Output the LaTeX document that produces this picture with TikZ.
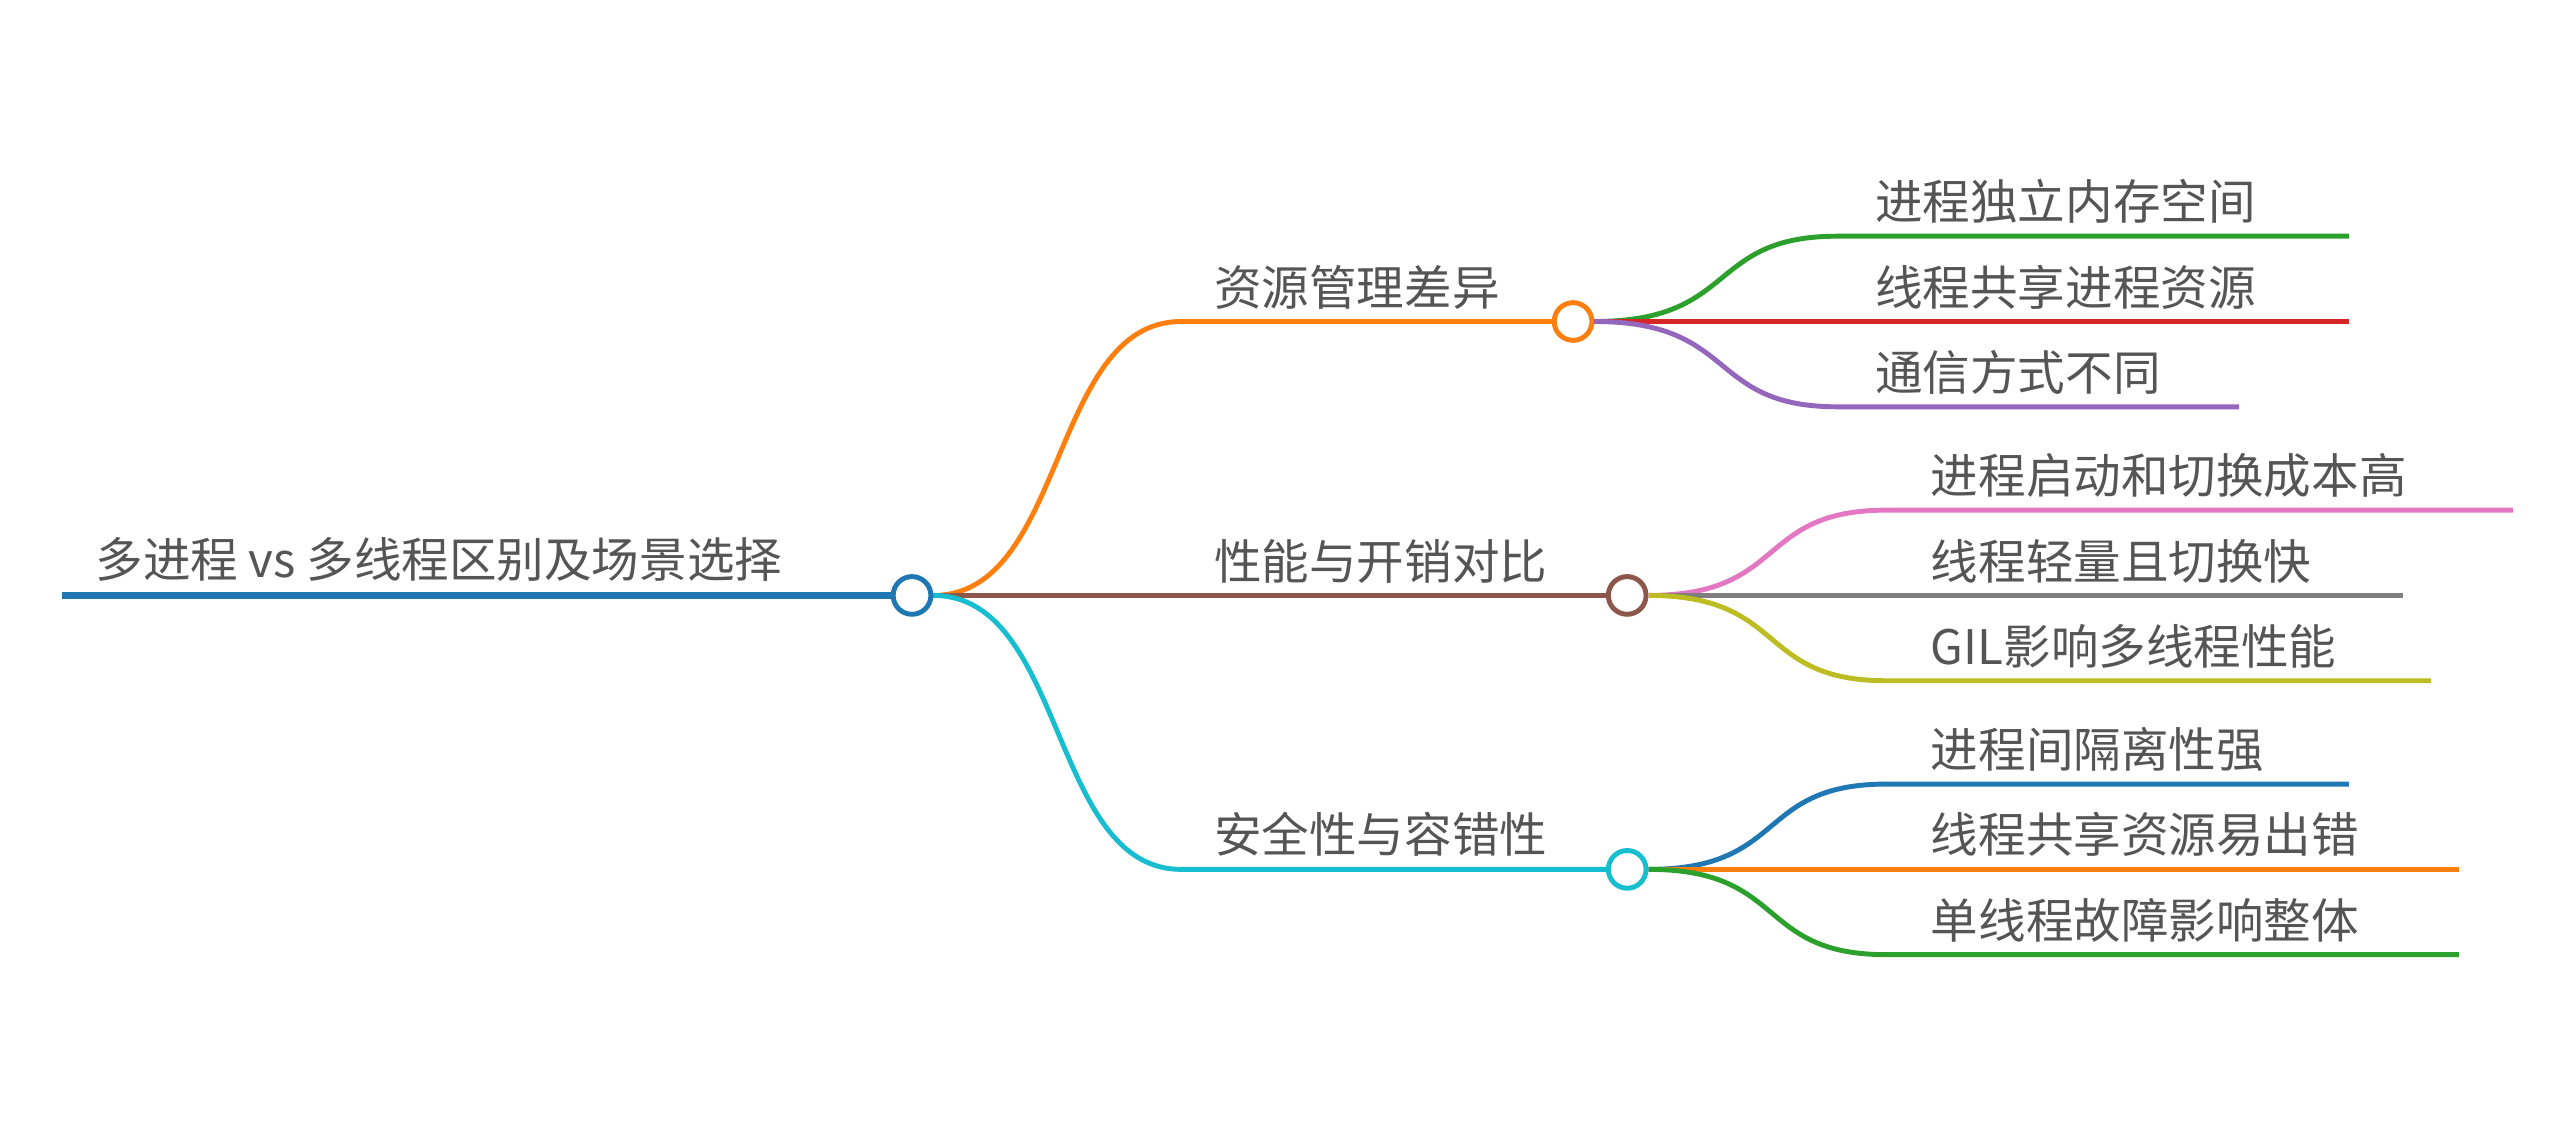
\documentclass[tikz,border=0pt]{standalone}
\usepackage{fontspec}
\setmainfont{Noto Sans CJK SC}
\begin{document}
\definecolor{cB}{HTML}{1F77B4}\definecolor{cO}{HTML}{FF7F0E}\definecolor{cG}{HTML}{2CA02C}
\definecolor{cR}{HTML}{D62728}\definecolor{cP}{HTML}{9467BD}\definecolor{cBr}{HTML}{8C564B}
\definecolor{cPk}{HTML}{E377C2}\definecolor{cGy}{HTML}{7F7F7F}\definecolor{cOl}{HTML}{BCBD22}
\definecolor{cC}{HTML}{17BECF}\definecolor{tx}{HTML}{555555}
\begin{tikzpicture}[x=1pt,y=-1pt,
  lbl/.style={anchor=base west,inner sep=0pt,text=tx,font=\fontsize{29}{29}\selectfont},
  ln/.style={line width=3pt},
  dot/.style={circle,draw,line width=3pt,fill=white,minimum size=23pt,inner sep=0pt}]
\useasboundingbox (0,0) rectangle (1568,685);
% root
\coordinate (r0) at (38,363);
\node[dot,draw=cB] (root) at (556,363) {};
\draw[ln,cB,line width=4pt] (r0) -- (root.west);
\node[lbl] at (58,352) {多进程 vs 多线程区别及场景选择};
% branch nodes
\node[dot,draw=cO] (b1) at (959,196) {};
\node[dot,draw=cBr] (b2) at (992,363) {};
\node[dot,draw=cC] (b3) at (992,530) {};
\coordinate (h1) at (720,196); \coordinate (h3) at (720,530);
\draw[ln,cO] (root.east) .. controls (650,363) and (640,196) .. (h1) -- (b1.west);
\draw[ln,cBr] (root.east) -- (b2.west);
\draw[ln,cC] (root.east) .. controls (650,363) and (640,530) .. (h3) -- (b3.west);
\node[lbl] at (740,186) {资源管理差异};
\node[lbl] at (740,353) {性能与开销对比};
\node[lbl] at (740,520) {安全性与容错性};
% leaves group 1
\coordinate (a1) at (1120,144); \coordinate (e1) at (1432,144);
\coordinate (a2) at (1120,196); \coordinate (e2) at (1432,196);
\coordinate (a3) at (1120,248); \coordinate (e3) at (1365,248);
\draw[ln,cG] (b1.east) .. controls (1060,196) and (1040,144) .. (a1) -- (e1);
\draw[ln,cR] (b1.east) -- (e2);
\draw[ln,cP] (b1.east) .. controls (1060,196) and (1040,248) .. (a3) -- (e3);
\node[lbl] at (1143,134) {进程独立内存空间};
\node[lbl] at (1143,186) {线程共享进程资源};
\node[lbl] at (1143,238) {通信方式不同};
% group 2
\coordinate (c1) at (1150,311); \coordinate (f1) at (1532,311);
\coordinate (f2) at (1465,363);
\coordinate (c3) at (1150,415); \coordinate (f3) at (1482,415);
\draw[ln,cPk] (b2.east) .. controls (1090,363) and (1070,311) .. (c1) -- (f1);
\draw[ln,cGy] (b2.east) -- (f2);
\draw[ln,cOl] (b2.east) .. controls (1090,363) and (1070,415) .. (c3) -- (f3);
\node[lbl] at (1177,301) {进程启动和切换成本高};
\node[lbl] at (1177,353) {线程轻量且切换快};
\node[lbl] at (1177,405) {GIL影响多线程性能};
% group 3
\coordinate (d1) at (1150,478); \coordinate (g1) at (1432,478);
\coordinate (g2) at (1499,530);
\coordinate (d3) at (1150,582); \coordinate (g3) at (1499,582);
\draw[ln,cB] (b3.east) .. controls (1090,530) and (1070,478) .. (d1) -- (g1);
\draw[ln,cO] (b3.east) -- (g2);
\draw[ln,cG] (b3.east) .. controls (1090,530) and (1070,582) .. (d3) -- (g3);
\node[lbl] at (1177,468) {进程间隔离性强};
\node[lbl] at (1177,520) {线程共享资源易出错};
\node[lbl] at (1177,572) {单线程故障影响整体};
\end{tikzpicture}
\end{document}
